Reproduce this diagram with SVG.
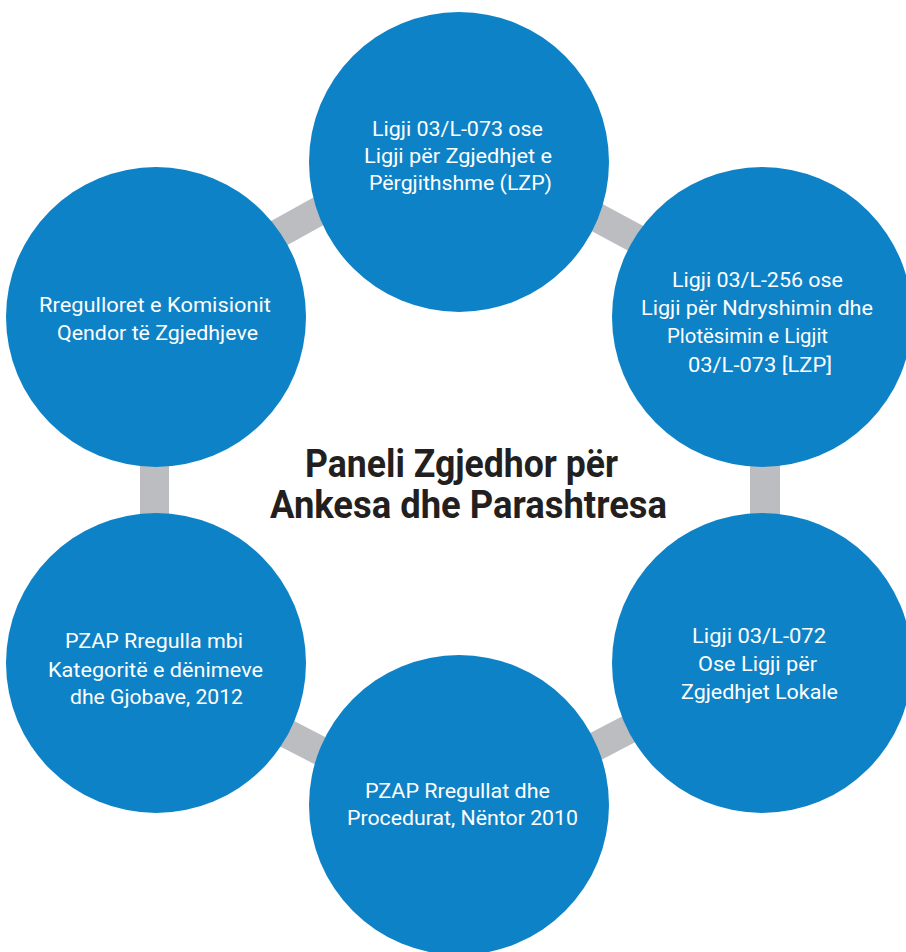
<svg xmlns="http://www.w3.org/2000/svg" width="906" height="952" viewBox="0 0 906 952">
<style>
.node{fill:#0E82C6}
.bar{stroke:#BCBDC0;stroke-width:29;fill:none}
.t{font-family:Roboto,"Liberation Sans",sans-serif;font-size:20px;fill:#FFFFFF}
.title{font-family:Roboto,"Liberation Sans",sans-serif;font-size:38px;font-weight:bold;fill:#231F20}
</style>
<rect width="906" height="952" fill="#FFFFFF"/>
<g id="connectors">
<line class="bar" x1="200" y1="277" x2="400" y2="166"/>
<line class="bar" x1="520" y1="176" x2="700" y2="273"/>
<line class="bar" x1="154.5" y1="317" x2="154.5" y2="663"/>
<line class="bar" x1="765" y1="317" x2="765" y2="663" style="stroke-width:30"/>
<line class="bar" x1="220" y1="699" x2="400" y2="792"/>
<line class="bar" x1="520" y1="786" x2="700" y2="692"/>
</g>
<g id="node-top">
<circle class="node" cx="459" cy="162" r="150"/>
<text class="t" x="372" y="136" textLength="171" lengthAdjust="spacingAndGlyphs">Ligji 03/L-073 ose</text>
<text class="t" x="364" y="163" textLength="188" lengthAdjust="spacingAndGlyphs">Ligji për Zgjedhjet e</text>
<text class="t" x="369" y="190" textLength="183" lengthAdjust="spacingAndGlyphs">Përgjithshme (LZP)</text>
</g>
<g id="node-upper-right">
<circle class="node" cx="762" cy="317" r="150"/>
<text class="t" x="672" y="287" textLength="171" lengthAdjust="spacingAndGlyphs">Ligji 03/L-256 ose</text>
<text class="t" x="641" y="315" textLength="232" lengthAdjust="spacingAndGlyphs">Ligji për Ndryshimin dhe</text>
<text class="t" x="667" y="343" textLength="161" lengthAdjust="spacingAndGlyphs">Plotësimin e Ligjit</text>
<text class="t" x="688" y="372" textLength="144" lengthAdjust="spacingAndGlyphs">03/L-073 [LZP]</text>
</g>
<g id="node-upper-left">
<circle class="node" cx="156" cy="317" r="150"/>
<text class="t" x="39" y="312" textLength="232" lengthAdjust="spacingAndGlyphs">Rregulloret e Komisionit</text>
<text class="t" x="57" y="340" textLength="201" lengthAdjust="spacingAndGlyphs">Qendor të Zgjedhjeve</text>
</g>
<g id="node-lower-left">
<circle class="node" cx="156" cy="663" r="150"/>
<text class="t" x="65" y="648" textLength="178" lengthAdjust="spacingAndGlyphs">PZAP Rregulla mbi</text>
<text class="t" x="48" y="677" textLength="215" lengthAdjust="spacingAndGlyphs">Kategoritë e dënimeve</text>
<text class="t" x="70" y="704" textLength="173" lengthAdjust="spacingAndGlyphs">dhe Gjobave, 2012</text>
</g>
<g id="node-lower-right">
<circle class="node" cx="762" cy="663" r="150"/>
<text class="t" x="692" y="643" textLength="134" lengthAdjust="spacingAndGlyphs">Ligji 03/L-072</text>
<text class="t" x="698" y="671" textLength="119" lengthAdjust="spacingAndGlyphs">Ose Ligji për</text>
<text class="t" x="681" y="699" textLength="157" lengthAdjust="spacingAndGlyphs">Zgjedhjet Lokale</text>
</g>
<g id="node-bottom">
<circle class="node" cx="459" cy="805" r="150"/>
<text class="t" x="365" y="798" textLength="185" lengthAdjust="spacingAndGlyphs">PZAP Rregullat dhe</text>
<text class="t" x="347" y="825" textLength="231" lengthAdjust="spacingAndGlyphs">Procedurat, Nëntor 2010</text>
</g>
<g id="title">
<text class="title" x="305" y="477" textLength="313" lengthAdjust="spacingAndGlyphs">Paneli Zgjedhor për</text>
<text class="title" x="270" y="518" textLength="397" lengthAdjust="spacingAndGlyphs">Ankesa dhe Parashtresa</text>
</g>
</svg>
